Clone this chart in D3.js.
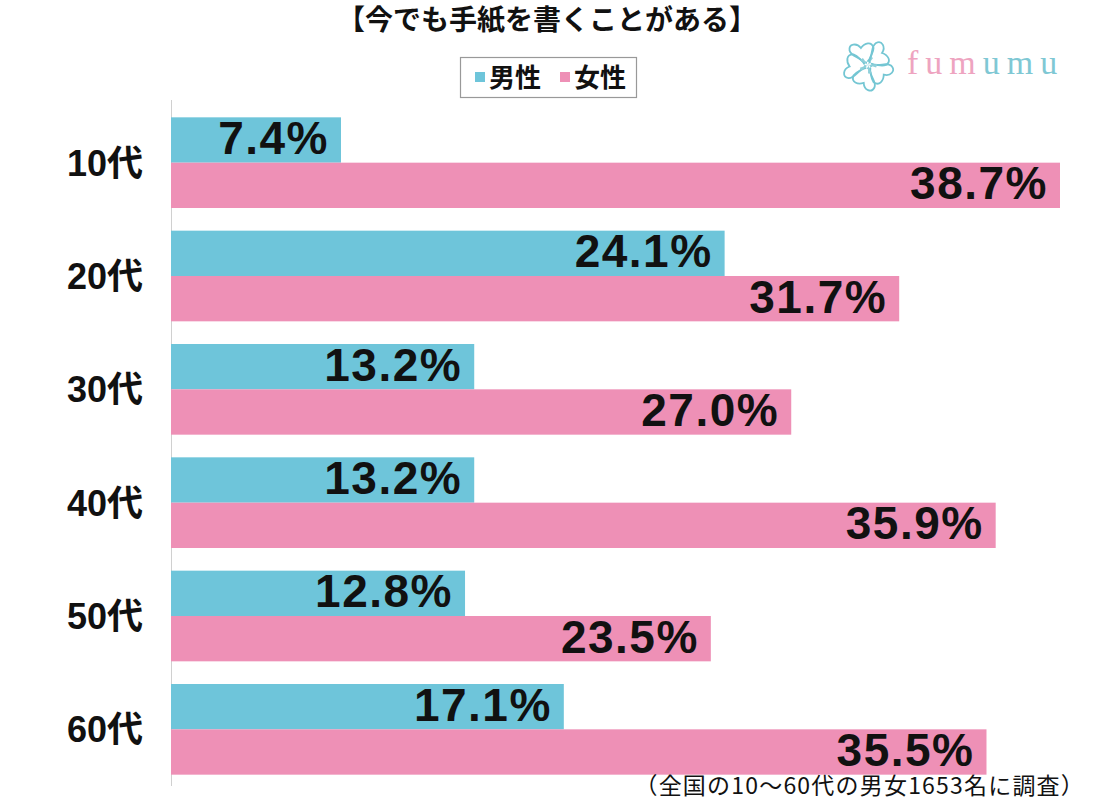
<!DOCTYPE html>
<html><head><meta charset="utf-8">
<script src="https://cdn.jsdelivr.net/npm/d3@7"></script>
<style>body{margin:0;background:#fff}svg{display:block}</style>
</head><body>
<script>
const categories = ["10代","20代","30代","40代","50代","60代"];
const seriesNames = ["男性","女性"];
const maleValues = [7.4, 24.1, 13.2, 13.2, 12.8, 17.1];
const femaleValues = [38.7, 31.7, 27.0, 35.9, 23.5, 35.5];
const colors = ["#6ec5da", "#ee90b6"];
const title = "【今でも手紙を書くことがある】";
const note = "（全国の10〜60代の男女1653名に調査）";

const W = 1102, H = 800;
const svg = d3.select("body").append("svg").attr("width", W).attr("height", H);
const jp = "'Noto Sans CJK JP','Noto Sans',sans-serif";

const x = d3.scaleLinear().domain([0, 38.7]).range([171, 1060]);
const y = d3.scaleBand().domain(categories).range([106, 786]).paddingInner(0.2).paddingOuter(0.1);
const ys = d3.scaleBand().domain(seriesNames).range([0, y.bandwidth()]);

// title
svg.append("text").attr("x", 547).attr("y", 30).attr("text-anchor", "middle")
  .attr("font-family", jp).attr("font-weight", "bold").attr("font-size", 28).attr("fill", "#111").text(title);

// legend
const lg = svg.append("g");
lg.append("rect").attr("x", 460.5).attr("y", 57.5).attr("width", 176).attr("height", 40)
  .attr("fill", "#fff").attr("stroke", "#999").attr("stroke-width", 1.2);
const legX = [475, 560];
seriesNames.forEach((n, i) => {
  lg.append("rect").attr("x", legX[i]).attr("y", 72).attr("width", 10).attr("height", 10).attr("fill", colors[i]);
  lg.append("text").attr("x", legX[i] + 14).attr("y", 87).attr("font-family", jp).attr("font-weight", "bold")
    .attr("font-size", 26).attr("fill", "#111").text(n);
});

// logo
const logo = svg.append("g").attr("transform", "translate(868,65)");
for (let k = 0; k < 5; k++) {
  const g = logo.append("g").attr("transform", `rotate(${k * 72})`);
  g.append("path").attr("d", "M0,-4 C6,-10 2,-18 8,-22 C14,-25 18,-18 14,-12 C20,-10 24,-4 18,0 C12,2 6,-2 3,1")
    .attr("fill", "none").attr("stroke", "#74c6d3").attr("stroke-width", 1.8).attr("stroke-linecap", "round");
  g.append("path").attr("d", "M0,0 L2,-9 L5,-7 Z").attr("fill", "#8fd0da");
}
const logoText = "fumumu".split("");
const logoColors = ["#eea4c0","#eea4c0","#eea4c0","#7fc8d4","#7fc8d4","#7fc8d4"];
const lt = svg.append("text").attr("x", 907).attr("y", 74).attr("font-family", "'Liberation Serif','DejaVu Serif',serif")
  .attr("font-size", 34).attr("letter-spacing", 7);
logoText.forEach((c, i) => lt.append("tspan").attr("fill", logoColors[i]).text(c));

// axis line
svg.append("line").attr("x1", 171.5).attr("x2", 171.5).attr("y1", 100).attr("y2", 786)
  .attr("stroke", "#d0d0d0").attr("stroke-width", 1);

// bars
const data = [];
categories.forEach((c, i) => {
  data.push({cat: c, s: seriesNames[0], v: maleValues[i], col: colors[0]});
  data.push({cat: c, s: seriesNames[1], v: femaleValues[i], col: colors[1]});
});
svg.selectAll("rect.bar").data(data).enter().append("rect").attr("class", "bar")
  .attr("x", x(0)).attr("y", d => y(d.cat) + ys(d.s)).attr("width", d => x(d.v) - x(0))
  .attr("height", ys.bandwidth()).attr("fill", d => d.col);

svg.selectAll("text.val").data(data).enter().append("text").attr("class", "val")
  .attr("x", d => x(d.v) - 12).attr("y", d => y(d.cat) + ys(d.s) + ys.bandwidth() / 2 + 14)
  .attr("text-anchor", "end").attr("font-family", "'Liberation Sans',Arial,sans-serif").attr("font-weight", "bold")
  .attr("font-size", 46).attr("letter-spacing", 1.5).attr("fill", "#111").text(d => d.v.toFixed(1) + "%");

// category labels
svg.selectAll("text.cat").data(categories).enter().append("text").attr("class", "cat")
  .attr("x", 143).attr("y", d => y(d) + y.bandwidth() / 2 + 13).attr("text-anchor", "end")
  .attr("font-family", "'Liberation Sans','Noto Sans CJK JP',sans-serif").attr("font-weight", "bold")
  .attr("font-size", 36).attr("fill", "#111").text(d => d);

// note
svg.append("text").attr("x", 1085).attr("y", 794).attr("text-anchor", "end").attr("font-family", jp)
  .attr("font-size", 23).attr("letter-spacing", 1.2).attr("fill", "#111").text(note);
</script>
</body></html>
